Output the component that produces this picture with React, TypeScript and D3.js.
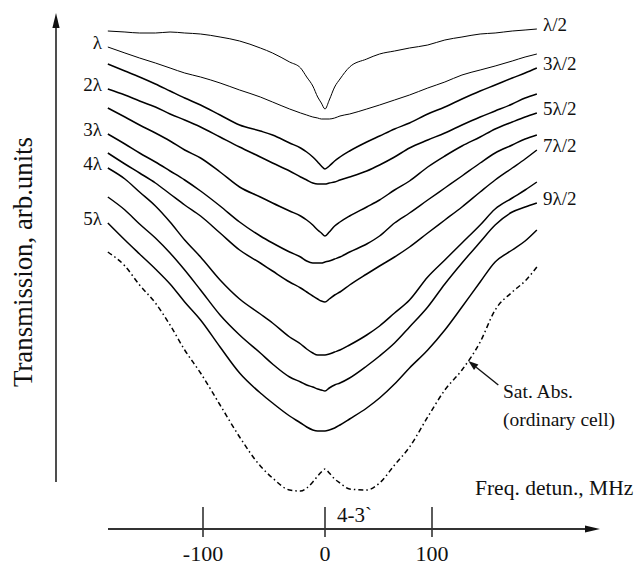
import React from "react";
import * as d3 from "d3";

// Frequency detuning (MHz) sample points shared by all traces
const freqs = [-178, -164, -152, -139, -127, -115, -102, -86, -70, -53, -43, -29, -20, -15, -10, -6, -3, 0, 4, 9, 14, 23, 39, 51, 65, 79, 96, 112, 128, 145, 159, 175, 187, 198];

// Transmission (arb. units) for each cell thickness
const tHalf = [469, 468, 467, 467, 468, 467, 466, 463, 459, 452, 447, 438, 432, 423, 414, 403, 397, 391, 400, 413, 421, 433, 441, 446, 449, 452, 455, 460, 463, 466, 467, 469, 470, 471];
const t1 = [453, 447, 442, 437, 432, 427, 423, 417, 410, 403, 398, 391, 387, 385, 383, 382, 381, 381, 381, 382, 384, 386, 391, 395, 400, 405, 412, 418, 425, 430, 434, 439, 443, 446];
const t3Half = [436, 429, 423, 416, 409, 402, 395, 385, 375, 369, 365, 357, 352, 348, 343, 338, 334, 331, 334, 339, 343, 349, 358, 364, 371, 377, 386, 393, 401, 409, 415, 422, 427, 432];
const t2 = [411, 405, 399, 393, 386, 380, 373, 363, 353, 343, 337, 329, 323, 320, 317, 316, 316, 316, 317, 318, 320, 323, 329, 335, 343, 352, 360, 367, 375, 383, 389, 396, 402, 406];
const t5Half = [392, 383, 375, 367, 359, 350, 342, 328, 313, 303, 297, 289, 284, 280, 275, 270, 267, 264, 268, 274, 278, 284, 293, 300, 310, 319, 333, 344, 354, 363, 371, 378, 383, 387];
const t3 = [366, 356, 347, 338, 329, 320, 309, 294, 278, 264, 257, 248, 243, 239, 237, 237, 237, 238, 239, 241, 243, 248, 256, 264, 277, 287, 300, 312, 324, 337, 347, 355, 361, 365];
const t7Half = [347, 336, 327, 317, 306, 295, 284, 267, 250, 237, 229, 218, 212, 208, 204, 201, 199, 198, 201, 205, 208, 215, 226, 234, 243, 253, 267, 280, 293, 308, 320, 332, 341, 350];
const t4 = [332, 321, 308, 294, 278, 260, 243, 220, 201, 186, 177, 163, 156, 151, 147, 145, 145, 145, 146, 148, 150, 155, 165, 174, 187, 200, 223, 240, 257, 275, 291, 302, 310, 318];
const t9Half = [303, 290, 276, 262, 247, 230, 210, 185, 165, 147, 136, 123, 118, 115, 113, 111, 110, 109, 112, 115, 117, 122, 134, 144, 157, 173, 193, 216, 237, 258, 275, 288, 293, 297];
const t5 = [277, 260, 246, 231, 216, 198, 180, 153, 127, 107, 97, 84, 77, 73, 70, 69, 69, 69, 70, 72, 75, 81, 92, 102, 116, 132, 150, 170, 193, 218, 238, 250, 259, 270];
const satAbs = [248, 234, 215, 197, 175, 150, 127, 95, 63, 34, 22, 10, 9, 12, 18, 24, 28, 31, 27, 21, 17, 11, 10, 17, 35, 53, 83, 110, 130, 158, 190, 208, 219, 233];

const seriesList = [tHalf, t1, t3Half, t2, t5Half, t3, t7Half, t4, t9Half, t5];
const seriesLabels = ["λ/2", "λ", "3λ/2", "2λ", "5λ/2", "3λ", "7λ/2", "4λ", "9λ/2", "5λ"];
const thinSeries = [0, 1];

const xTicks = [-100, 0, 100];
const xTickLabels = ["-100", "0", "100"];
const lineLabel = "4-3`";
const xTitle = "Freq. detun., MHz";
const yTitle = "Transmission, arb.units";
const annotLines = ["Sat. Abs.", "(ordinary cell)"];
const annotTip = { f: 134, v: 139 };
const annotTail = { f: 162, v: 115 };

const FONT = "'Liberation Serif', 'Times New Roman', Times, serif";

export default function App() {
  const W = 642, H = 572;
  const x = d3.scaleLinear().domain([-100, 0, 100]).range([203, 325, 432]);
  const y = d3.scaleLinear().domain([0, 480]).range([500, 20]);

  const line = d3
    .line<number>()
    .x((_, i) => x(freqs[i]))
    .y((d) => y(d))
    .curve(d3.curveMonotoneX);

  const axisY = 529;
  const xAxisStart = 108, xAxisEnd = 600;
  const yAxisX = 56, yAxisBottom = 482, yAxisTop = 13;

  const tipX = x(annotTip.f), tipY = y(annotTip.v);
  const tailX = x(annotTail.f), tailY = y(annotTail.v);
  const ang = Math.atan2(tipY - tailY, tipX - tailX);
  const hl = 10, hw = 3.5;
  const bx = tipX - hl * Math.cos(ang), by = tipY - hl * Math.sin(ang);
  const head = `${tipX},${tipY} ${bx + hw * Math.sin(ang)},${by - hw * Math.cos(ang)} ${bx - hw * Math.sin(ang)},${by + hw * Math.cos(ang)}`;

  return (
    <svg
      width={W}
      height={H}
      viewBox={`0 0 ${W} ${H}`}
      style={{ position: "absolute", left: 0, top: 0, background: "#fff" }}
      fontFamily={FONT}
    >
      <rect x={0} y={0} width={W} height={H} fill="#fff" />

      {/* Y axis with arrow */}
      <line x1={yAxisX} y1={yAxisBottom} x2={yAxisX} y2={yAxisTop + 10} stroke="#222" strokeWidth={1.6} />
      <polygon points={`${yAxisX},${yAxisTop} ${yAxisX - 3.6},${yAxisTop + 15} ${yAxisX + 3.6},${yAxisTop + 15}`} fill="#111" />
      <text
        transform={`translate(32, 262) rotate(-90)`}
        textAnchor="middle"
        fontSize={27}
        textLength={250}
        lengthAdjust="spacingAndGlyphs"
        fill="#111"
      >
        {yTitle}
      </text>

      {/* X axis with arrow */}
      <line x1={xAxisStart} y1={axisY} x2={xAxisEnd - 10} y2={axisY} stroke="#333" strokeWidth={1.8} />
      <polygon points={`${xAxisEnd},${axisY} ${xAxisEnd - 15},${axisY - 3.6} ${xAxisEnd - 15},${axisY + 3.6}`} fill="#111" />
      {xTicks.map((t, i) => (
        <g key={t}>
          <line x1={x(t)} y1={axisY - 22} x2={x(t)} y2={axisY + 8} stroke="#333" strokeWidth={1.6} />
          <text x={x(t)} y={561} textAnchor="middle" fontSize={22} fill="#111">
            {xTickLabels[i]}
          </text>
        </g>
      ))}
      <text x={x(0) + 12} y={522} fontSize={21} fill="#111">
        {lineLabel}
      </text>
      <text x={475} y={495} fontSize={21.5} fill="#111">
        {xTitle}
      </text>

      {/* Traces */}
      {seriesList.map((s, i) => (
        <path
          key={seriesLabels[i]}
          d={line(s) || ""}
          fill="none"
          stroke="#000"
          strokeWidth={thinSeries.includes(i) ? 1 : 1.5}
          strokeLinejoin="round"
        />
      ))}
      <path
        d={line(satAbs) || ""}
        fill="none"
        stroke="#000"
        strokeWidth={1.5}
        strokeDasharray="5,3,1.5,3"
      />

      {/* Series labels */}
      {seriesList.map((s, i) =>
        i % 2 === 1 ? (
          <text key={"l" + i} x={102} y={y(s[0]) + 2} textAnchor="end" fontSize={19} fill="#111">
            {seriesLabels[i]}
          </text>
        ) : (
          <text key={"r" + i} x={543} y={y(s[s.length - 1]) + 2} fontSize={19} fill="#111">
            {seriesLabels[i]}
          </text>
        )
      )}

      {/* Annotation */}
      <line x1={tailX} y1={tailY} x2={bx} y2={by} stroke="#111" strokeWidth={1.4} />
      <polygon points={head} fill="#111" />
      <text x={503} y={398} fontSize={19.5} fill="#111">
        {annotLines[0]}
      </text>
      <text x={503} y={426} fontSize={19.5} fill="#111">
        {annotLines[1]}
      </text>
    </svg>
  );
}
